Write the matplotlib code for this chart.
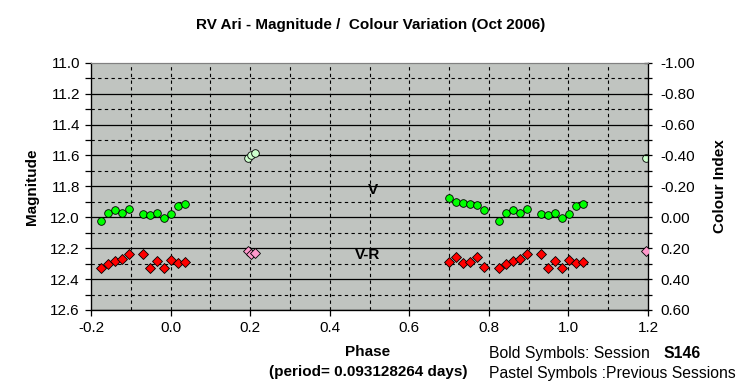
import numpy as np
import matplotlib.pyplot as plt
from matplotlib.ticker import MultipleLocator, FormatStrFormatter

plt.rcParams["font.family"] = ["Liberation Sans", "DejaVu Sans"]
plt.rcParams["axes.unicode_minus"] = False

# session S146 (one cycle, phase 0.70 .. 1.04)
phase = [0.699, 0.717, 0.735, 0.752, 0.770, 0.788,
         0.825, 0.842, 0.861, 0.877, 0.895, 0.931, 0.948, 0.966,
         0.984, 1.002, 1.019, 1.037]
v_mag = [11.873, 11.899, 11.908, 11.912, 11.919, 11.953,
         12.022, 11.970, 11.951, 11.975, 11.947, 11.977, 11.983, 11.970,
         12.003, 11.977, 11.929, 11.916]
vr_ci = [0.292, 0.259, 0.298, 0.292, 0.259, 0.320,
         0.330, 0.305, 0.283, 0.272, 0.238, 0.238, 0.330, 0.283,
         0.330, 0.277, 0.298, 0.292]

# previous sessions
old_phase = [0.194, 0.203, 0.211]
old_v = [11.619, 11.599, 11.587]
old_vr = [0.218, 0.238, 0.229]


def wrap(p, vals, lo=-0.2, hi=1.2):
    # plot each point at phase and phase-1, keep only what falls on the axis
    p = np.asarray(p)
    vals = np.asarray(vals)
    pp = np.concatenate([p, p - 1.0, p + 1.0])
    vv = np.concatenate([vals, vals, vals])
    keep = (pp >= lo) & (pp <= hi)
    return pp[keep], vv[keep]


fig = plt.figure(figsize=(7.51, 3.89), dpi=100)
ax = fig.add_axes([0.1212, 0.2031, 0.7417, 0.6357])
ax.set_facecolor("#c0c4c0")
ax2 = ax.twinx()

x, y = wrap(old_phase, old_v)
ax.plot(x, y, "o", ms=5.5, mfc="#ccffcc", mec="k", mew=0.6, ls="none", zorder=5)
x, y = wrap(phase, v_mag)
ax.plot(x, y, "o", ms=5.5, mfc="#00ff00", mec="k", mew=0.6, ls="none", zorder=5)

x, y = wrap(old_phase, old_vr)
ax2.plot(x, y, "D", ms=5, mfc="#ff99cc", mec="k", mew=0.6, ls="none", zorder=5)
x, y = wrap(phase, vr_ci)
ax2.plot(x, y, "D", ms=5, mfc="#ff0000", mec="k", mew=0.6, ls="none", zorder=5)

ax.set_xlim(-0.2, 1.2)
ax.set_ylim(12.6, 11.0)
ax2.set_ylim(0.6, -1.0)

# grid
for m in np.arange(11.1, 12.6, 0.2):
    ax.axhline(m, color="k", lw=0.8, ls=(0, (3, 3)), zorder=1)
for m in np.arange(11.2, 12.6, 0.2):
    ax.axhline(m, color="k", lw=0.9, zorder=1)
for p in np.arange(-0.1, 1.2, 0.1):
    ax.axvline(p, color="k", lw=0.8, ls=(0, (3, 3)), zorder=1)

ax.xaxis.set_major_locator(MultipleLocator(0.2))
ax.xaxis.set_major_formatter(FormatStrFormatter("%.1f"))
ax.yaxis.set_major_locator(MultipleLocator(0.2))
ax.yaxis.set_minor_locator(MultipleLocator(0.1))
ax.yaxis.set_major_formatter(FormatStrFormatter("%.1f"))
ax2.yaxis.set_major_locator(MultipleLocator(0.2))
ax2.yaxis.set_minor_locator(MultipleLocator(0.1))
ax2.yaxis.set_major_formatter(FormatStrFormatter("%.2f"))

ax.tick_params(axis="both", which="both", direction="out", length=4,
               width=0.9, labelsize=11, pad=4)
ax2.tick_params(axis="y", which="both", direction="inout", length=6,
                width=0.9, labelsize=11, pad=6)

ax.spines["top"].set_color("#808080")
ax2.spines["top"].set_color("#808080")
ax.spines["left"].set_linewidth(0.9)
ax.spines["bottom"].set_linewidth(0.9)
ax2.spines["right"].set_linewidth(0.9)

ax.set_ylabel("Magnitude", fontsize=11, fontweight="bold", labelpad=8)
ax2.set_ylabel("Colour Index", fontsize=11, fontweight="bold", labelpad=13)

ax.text(0.509, 11.824, "V", fontsize=11, fontweight="bold", ha="center", va="center")
ax.text(0.495, 12.244, "V-R", fontsize=11, fontweight="bold", ha="center", va="center")

fig.text(0.493, 0.935, "RV Ari - Magnitude /  Colour Variation (Oct 2006)",
         fontsize=11, fontweight="bold", ha="center", va="center")
fig.text(0.490, 0.096, "Phase", fontsize=11, fontweight="bold", ha="center", va="center")
fig.text(0.491, 0.044, "(period= 0.093128264 days)", fontsize=11,
         fontweight="bold", ha="center", va="center")
fig.text(0.651, 0.090, "Bold Symbols: Session", fontsize=11.3, ha="left", va="center")
fig.text(0.883, 0.090, "S146", fontsize=11.3, fontweight="bold", ha="left", va="center")
fig.text(0.651, 0.040, "Pastel Symbols :Previous Sessions", fontsize=11.3,
         ha="left", va="center")

fig.savefig("out.png", dpi=100)
plt.close()
